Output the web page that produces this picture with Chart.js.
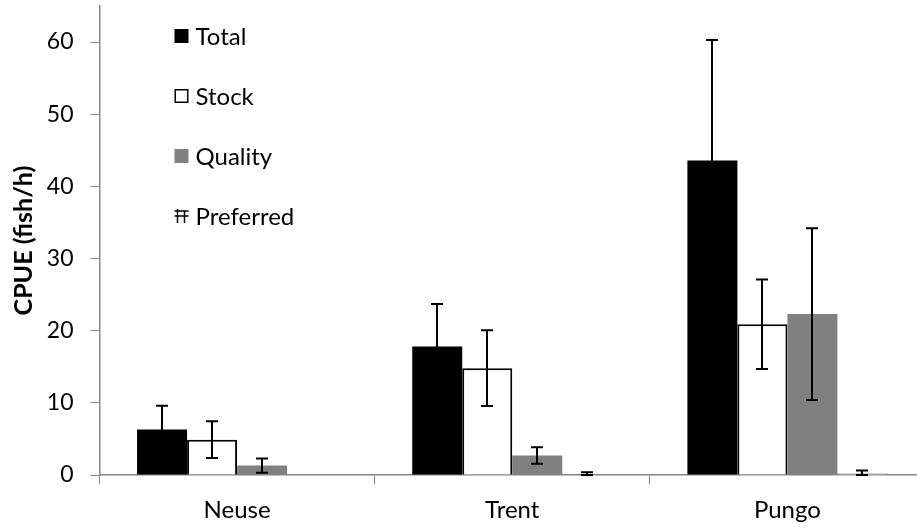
<!DOCTYPE html>
<html>
<head>
<meta charset="utf-8">
<script src="https://cdn.jsdelivr.net/npm/chart.js@4.4.1/dist/chart.umd.min.js"></script>
<style>
  html, body { margin: 0; padding: 0; background: #fff; overflow: hidden; }
  #wrap { width: 917px; height: 529px; overflow: hidden; }
  canvas { display: block; }
</style>
</head>
<body>
<div id="wrap"><canvas id="c" width="925" height="529"></canvas></div>
<script>
const categories = ['Neuse', 'Trent', 'Pungo'];
const seriesNames = ['Total', 'Stock', 'Quality', 'Preferred'];
const totalValues = [6.3, 17.8, 43.6];
const totalErrors = [3.3, 5.9, 16.7];
const stockValues = [4.9, 14.8, 20.9];
const stockErrors = [2.55, 5.25, 6.2];
const qualityValues = [1.3, 2.7, 22.3];
const qualityErrors = [1.0, 1.15, 11.9];
const preferredValues = [0, 0.1, 0.25];
const preferredErrors = [0, 0.27, 0.37];
const yTicks = [0, 10, 20, 30, 40, 50, 60];
const yTitle = 'CPUE (fish/h)';

const FONT = 'Lato, "Open Sans", sans-serif';
const AXIS = '#868686';

const datasets = [
  { label: seriesNames[0], data: totalValues, errors: totalErrors,
    backgroundColor: '#000000', borderColor: '#000000', borderWidth: 0 },
  { label: seriesNames[1], data: stockValues, errors: stockErrors,
    backgroundColor: '#ffffff', borderColor: '#000000', borderWidth: 2, borderSkipped: 'bottom' },
  { label: seriesNames[2], data: qualityValues, errors: qualityErrors,
    backgroundColor: '#808080', borderColor: '#808080', borderWidth: 0 },
  { label: seriesNames[3], data: preferredValues, errors: preferredErrors,
    backgroundColor: '#ffffff', borderColor: '#6a6a6a', borderWidth: 1, borderSkipped: 'bottom' }
];

const errorBars = {
  id: 'errorBars',
  afterDatasetsDraw(chart) {
    const ctx = chart.ctx;
    const y = chart.scales.y;
    ctx.save();
    ctx.strokeStyle = '#000';
    ctx.lineWidth = 2;
    chart.data.datasets.forEach((ds, i) => {
      const meta = chart.getDatasetMeta(i);
      meta.data.forEach((bar, j) => {
        const v = ds.data[j], e = ds.errors[j];
        if (!e) return;
        const x = Math.round(bar.x);
        const yt = y.getPixelForValue(v + e);
        const yb = y.getPixelForValue(Math.max(v - e, 0));
        const cap = 6;
        ctx.beginPath();
        ctx.moveTo(x, yt); ctx.lineTo(x, yb);
        ctx.moveTo(x - cap, yt); ctx.lineTo(x + cap, yt);
        ctx.moveTo(x - cap, yb); ctx.lineTo(x + cap, yb);
        ctx.stroke();
      });
    });
    ctx.restore();
  }
};

const customLegend = {
  id: 'customLegend',
  afterDraw(chart) {
    const ctx = chart.ctx;
    const area = chart.chartArea;
    const x0 = area.left + 75;
    const size = 14;
    ctx.save();
    ctx.font = '24px ' + FONT;
    ctx.textBaseline = 'middle';
    ctx.textAlign = 'left';
    chart.data.datasets.forEach((ds, i) => {
      const cy = 36 + i * 60;
      const top = cy - size / 2;
      if (i === 0 || i === 2) {
        ctx.fillStyle = ds.backgroundColor;
        ctx.fillRect(x0, top, size, size);
      } else if (i === 1) {
        ctx.strokeStyle = '#000';
        ctx.lineWidth = 1.5;
        ctx.strokeRect(x0 + 0.75, top + 0.75, size - 1.5, size - 1.5);
      } else {
        ctx.strokeStyle = '#000';
        ctx.lineWidth = 1.5;
        ctx.beginPath();
        ctx.moveTo(x0, top + 2); ctx.lineTo(x0 + size, top + 2);
        ctx.moveTo(x0, cy); ctx.lineTo(x0 + size, cy);
        ctx.moveTo(x0 + 3, top); ctx.lineTo(x0 + 3, top + size);
        ctx.moveTo(x0 + size - 4, top + 2); ctx.lineTo(x0 + size - 4, top + size);
        ctx.stroke();
      }
      ctx.fillStyle = '#000';
      ctx.fillText(ds.label, x0 + size + 7, cy + 1);
    });
    ctx.restore();
  }
};

new Chart(document.getElementById('c'), {
  type: 'bar',
  data: { labels: categories, datasets },
  plugins: [errorBars, customLegend],
  options: {
    responsive: false,
    animation: false,
    layout: { padding: { top: 6, right: 0, bottom: 0, left: 0 } },
    plugins: { legend: { display: false }, tooltip: { enabled: false } },
    datasets: { bar: { categoryPercentage: 0.727, barPercentage: 1.0 } },
    scales: {
      x: {
        offset: true,
        afterFit(scale) { scale.height = 54; scale.paddingLeft = 0; scale.paddingRight = 0; },
        grid: { display: true, drawOnChartArea: false, offset: true, tickLength: 9, color: AXIS, lineWidth: 1 },
        border: { display: true, color: AXIS, width: 1.5 },
        ticks: { color: '#000', font: { family: FONT, size: 24 }, padding: 12, maxRotation: 0 }
      },
      y: {
        min: 0, max: 65,
        afterFit(scale) { scale.width = 99.5; scale.paddingTop = 0; scale.paddingBottom = 0; },
        afterBuildTicks(scale) { scale.ticks = yTicks.map(v => ({ value: v })); },
        grid: { display: true, drawOnChartArea: false, tickLength: 9, color: AXIS, lineWidth: 1 },
        border: { display: true, color: AXIS, width: 1.5 },
        ticks: { color: '#000', font: { family: FONT, size: 23 }, padding: 17 },
        title: { display: true, text: yTitle, color: '#000', font: { family: FONT, size: 25, weight: 'bold', lineHeight: 1.2 }, padding: { top: 9, bottom: 0 } }
      }
    }
  }
});
</script>
</body>
</html>
